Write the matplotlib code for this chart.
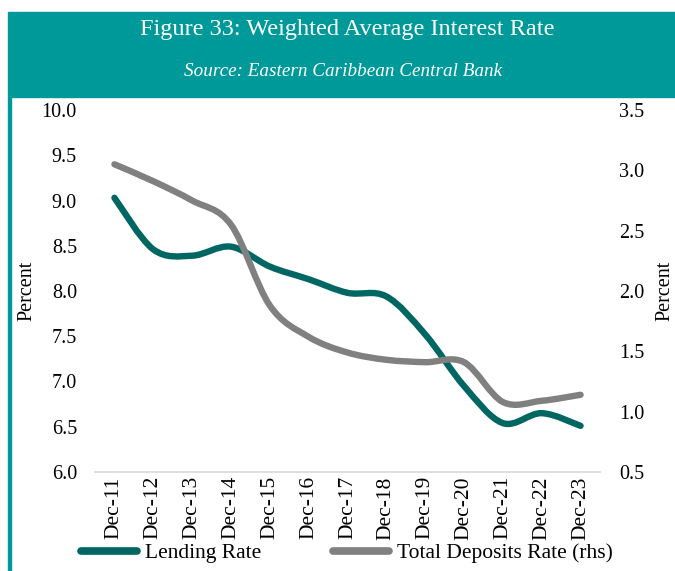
import matplotlib
matplotlib.use("Agg")
import matplotlib.pyplot as plt
from matplotlib.patches import Rectangle, PathPatch
from matplotlib.path import Path
from matplotlib.lines import Line2D
import numpy as np

categories = ["Dec-11", "Dec-12", "Dec-13", "Dec-14", "Dec-15", "Dec-16", "Dec-17",
              "Dec-18", "Dec-19", "Dec-20", "Dec-21", "Dec-22", "Dec-23"]
lending_rate = [9.03, 8.46, 8.39, 8.49, 8.27, 8.13, 7.98, 7.94, 7.52, 6.95, 6.54, 6.65, 6.51]
deposits_rate = [3.05, 2.91, 2.75, 2.55, 1.88, 1.62, 1.49, 1.43, 1.41, 1.41, 1.08, 1.09, 1.14]

left_ticks = [6.0, 6.5, 7.0, 7.5, 8.0, 8.5, 9.0, 9.5, 10.0]
right_ticks = [0.5, 1.0, 1.5, 2.0, 2.5, 3.0, 3.5]

TEAL_BAND = "#00999A"
LEND_COLOR = "#006661"
DEP_COLOR = "#808080"
SERIF = ["Liberation Serif", "DejaVu Serif"]

plt.rcParams["font.family"] = SERIF

W, H = 675, 571
fig = plt.figure(figsize=(W / 100, H / 100), dpi=100)


def smooth_path(xs, ys):
    xs = np.asarray(xs, float)
    ys = np.asarray(ys, float)
    pts = np.column_stack([xs, ys])
    n = len(pts)
    verts = [pts[0]]
    codes = [Path.MOVETO]
    for i in range(n - 1):
        p0 = pts[i - 1] if i > 0 else pts[i]
        p1 = pts[i]
        p2 = pts[i + 1]
        p3 = pts[i + 2] if i + 2 < n else pts[i + 1]
        c1 = p1 + (p2 - p0) / 6.0
        c2 = p2 - (p3 - p1) / 6.0
        verts += [c1, c2, p2]
        codes += [Path.CURVE4] * 3
    return Path(np.array(verts), codes)


# header band and left rule
fig.patches.append(Rectangle((8 / W, (H - 97) / H), 1 - 8 / W, 85 / H,
                             transform=fig.transFigure, color=TEAL_BAND, zorder=0))
fig.patches.append(Rectangle((8 / W, 0), 3 / W, (H - 97) / H,
                             transform=fig.transFigure, color=TEAL_BAND, zorder=0))
fig.text(347 / W, 1 - 30 / H, "Figure 33: Weighted Average Interest Rate",
         color="white", fontsize=17.5, ha="center", va="center")
fig.text(343 / W, 1 - 71 / H, "Source: Eastern Caribbean Central Bank",
         color="white", fontsize=13.8, style="italic", ha="center", va="center")

ax = fig.add_axes([95 / W, 1 - 472 / H, 505 / W, 362 / H])
ax2 = ax.twinx()

x = np.arange(len(categories))
ax.add_patch(PathPatch(smooth_path(x, lending_rate), fill=False, edgecolor=LEND_COLOR,
                       lw=4.6, capstyle="round", joinstyle="round", zorder=3))
ax2.add_patch(PathPatch(smooth_path(x, deposits_rate), fill=False, edgecolor=DEP_COLOR,
                        lw=4.6, capstyle="round", joinstyle="round", zorder=2))

ax.set_xlim(-0.5, len(categories) - 0.5)
ax.set_ylim(6.0, 10.0)
ax2.set_ylim(0.5, 3.5)
ax.set_yticks(left_ticks)
ax.set_yticklabels([f"{v:.1f}" for v in left_ticks])
ax2.set_yticks(right_ticks)
ax2.set_yticklabels([f"{v:.1f}" for v in right_ticks])
ax.set_xticks(x)
ax.set_xticklabels(categories, rotation=90)

for a in (ax, ax2):
    for s in ("top", "left", "right", "bottom"):
        a.spines[s].set_visible(False)
    a.tick_params(length=0, labelsize=14.5)
ax.tick_params(axis="x", labelsize=15.5, pad=3)
ax.spines["bottom"].set_visible(True)
ax.spines["bottom"].set_color("#d9d9d9")
ax.spines["bottom"].set_linewidth(1.2)
ax.tick_params(axis="y", pad=13)
ax2.tick_params(axis="y", pad=14)

ax.set_ylabel("Percent", fontsize=14.5, va="center")
ax2.set_ylabel("Percent", fontsize=14.5, va="center")
ax.yaxis.set_label_coords((27 - 95) / 505, 0.5)
ax2.yaxis.set_label_coords((665 - 95) / 505, 0.5)

handles = [Line2D([], [], color=LEND_COLOR, lw=5.5, solid_capstyle="round"),
           Line2D([], [], color=DEP_COLOR, lw=5.5, solid_capstyle="round")]
fig.legend(handles, ["Lending Rate", "Total Deposits Rate (rhs)"],
           loc="center", bbox_to_anchor=(347 / W, 1 - 553 / H), ncol=2, frameon=False,
           fontsize=15.5, handlelength=2.6, handletextpad=0.37, columnspacing=3.3,
           borderaxespad=0, borderpad=0)

fig.savefig("out.png", dpi=100)
